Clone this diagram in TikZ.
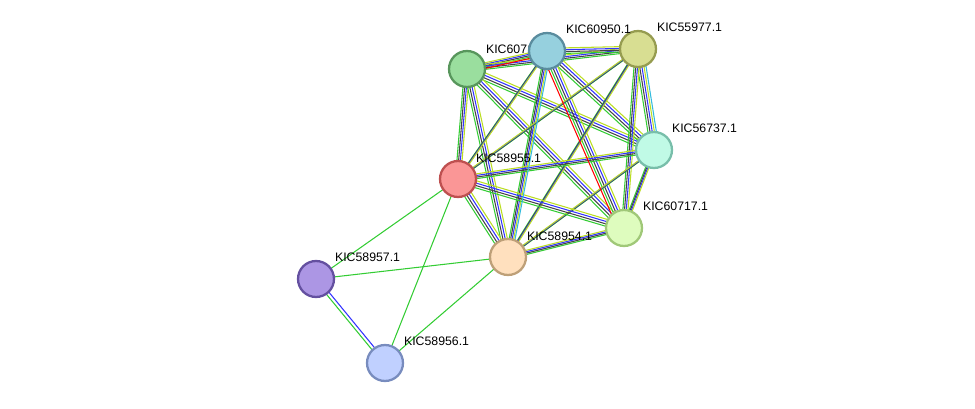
\documentclass[tikz,border=0pt]{standalone}
\usepackage{fontspec}
\setmainfont{Liberation Sans}
\definecolor{egreen}{HTML}{33CC33}
\definecolor{egray}{HTML}{444444}
\definecolor{eblue}{HTML}{3333FF}
\definecolor{eyell}{HTML}{BBDD22}
\definecolor{ecyan}{HTML}{33BBDD}
\begin{document}
\begin{tikzpicture}[x=0.02cm,y=-0.02cm,
  prot/.style={circle,draw,line width=1.3pt,minimum size=0.72cm,inner sep=0pt},
  lab/.style={font=\scriptsize,anchor=south west,inner sep=1pt},
  ev/.style={line width=0.6pt}]
	\useasboundingbox (0,0) rectangle (975,409);
	% coordinates of the proteins
	\coordinate (c1) at (467,69);
	\coordinate (c2) at (547,51);
	\coordinate (c3) at (638,49);
	\coordinate (c4) at (654,150);
	\coordinate (c5) at (458,179);
	\coordinate (c6) at (624,228);
	\coordinate (c7) at (508,257);
	\coordinate (c8) at (316,279);
	\coordinate (c9) at (385,363);
	%
	\foreach \a/\b in {c1/c2,c1/c3,c1/c4,c1/c5,c1/c6,c1/c7,c2/c3,c2/c4,c2/c5,c2/c6,c2/c7,
	  c3/c4,c3/c5,c3/c6,c3/c7,c4/c5,c4/c6,c4/c7,c5/c6,c5/c7,c6/c7}
	  \foreach \col/\s in {egreen/-1.6,egray/-0.55,eblue/0.55,eyell/1.6}
	    \draw[ev,\col,transform canvas={shift={(\s pt,\s pt)}}] (\a) -- (\b);
	\draw[ev,red,transform canvas={shift={(-2.6pt,-2.6pt)}}] (c1) -- (c2);
	\draw[ev,red,transform canvas={shift={(-2.6pt,-2.6pt)}}] (c2) -- (c6);
	\draw[ev,ecyan,transform canvas={shift={(2.6pt,2.6pt)}}] (c3) -- (c4);
	\draw[ev,ecyan,transform canvas={shift={(2.6pt,2.6pt)}}] (c2) -- (c7);
	\foreach \a/\b in {c5/c8,c5/c9,c8/c7,c7/c9}
	  \draw[ev,egreen] (\a) -- (\b);
	\draw[ev,eblue,transform canvas={shift={(0.7pt,0.6pt)}}] (c8) -- (c9);
	\draw[ev,egreen,transform canvas={shift={(-0.7pt,-0.6pt)}}] (c8) -- (c9);
	%
	\node[prot,fill={rgb,255:red,154;green,222;blue,158},draw={rgb,255:red,88;green,150;blue,92}] (p1) at (c1) {};
	\node[lab] at (484,56) {KIC60716.1};
	\node[prot,fill={rgb,255:red,150;green,208;blue,222},draw={rgb,255:red,90;green,140;blue,158}] (p2) at (c2) {};
	\node[prot,fill={rgb,255:red,216;green,222;blue,146},draw={rgb,255:red,150;green,156;blue,80}] (p3) at (c3) {};
	\node[prot,fill={rgb,255:red,192;green,250;blue,230},draw={rgb,255:red,120;green,190;blue,170}] (p4) at (c4) {};
	\node[prot,fill={rgb,255:red,250;green,150;blue,150},draw={rgb,255:red,190;green,80;blue,80}] (p5) at (c5) {};
	\node[prot,fill={rgb,255:red,222;green,252;blue,190},draw={rgb,255:red,160;green,200;blue,120}] (p6) at (c6) {};
	\node[prot,fill={rgb,255:red,255;green,224;blue,190},draw={rgb,255:red,190;green,160;blue,120}] (p7) at (c7) {};
	\node[prot,fill={rgb,255:red,172;green,150;blue,228},draw={rgb,255:red,100;green,80;blue,160}] (p8) at (c8) {};
	\node[prot,fill={rgb,255:red,192;green,208;blue,255},draw={rgb,255:red,120;green,140;blue,190}] (p9) at (c9) {};
	\node[lab] at (564,36) {KIC60950.1};
	\node[lab] at (655,34) {KIC55977.1};
	\node[lab] at (670,135) {KIC56737.1};
	\node[lab] at (474,165) {KIC58955.1};
	\node[lab] at (641,213) {KIC60717.1};
	\node[lab] at (525,243) {KIC58954.1};
	\node[lab] at (333,264) {KIC58957.1};
	\node[lab] at (402,348) {KIC58956.1};
\end{tikzpicture}
\end{document}
